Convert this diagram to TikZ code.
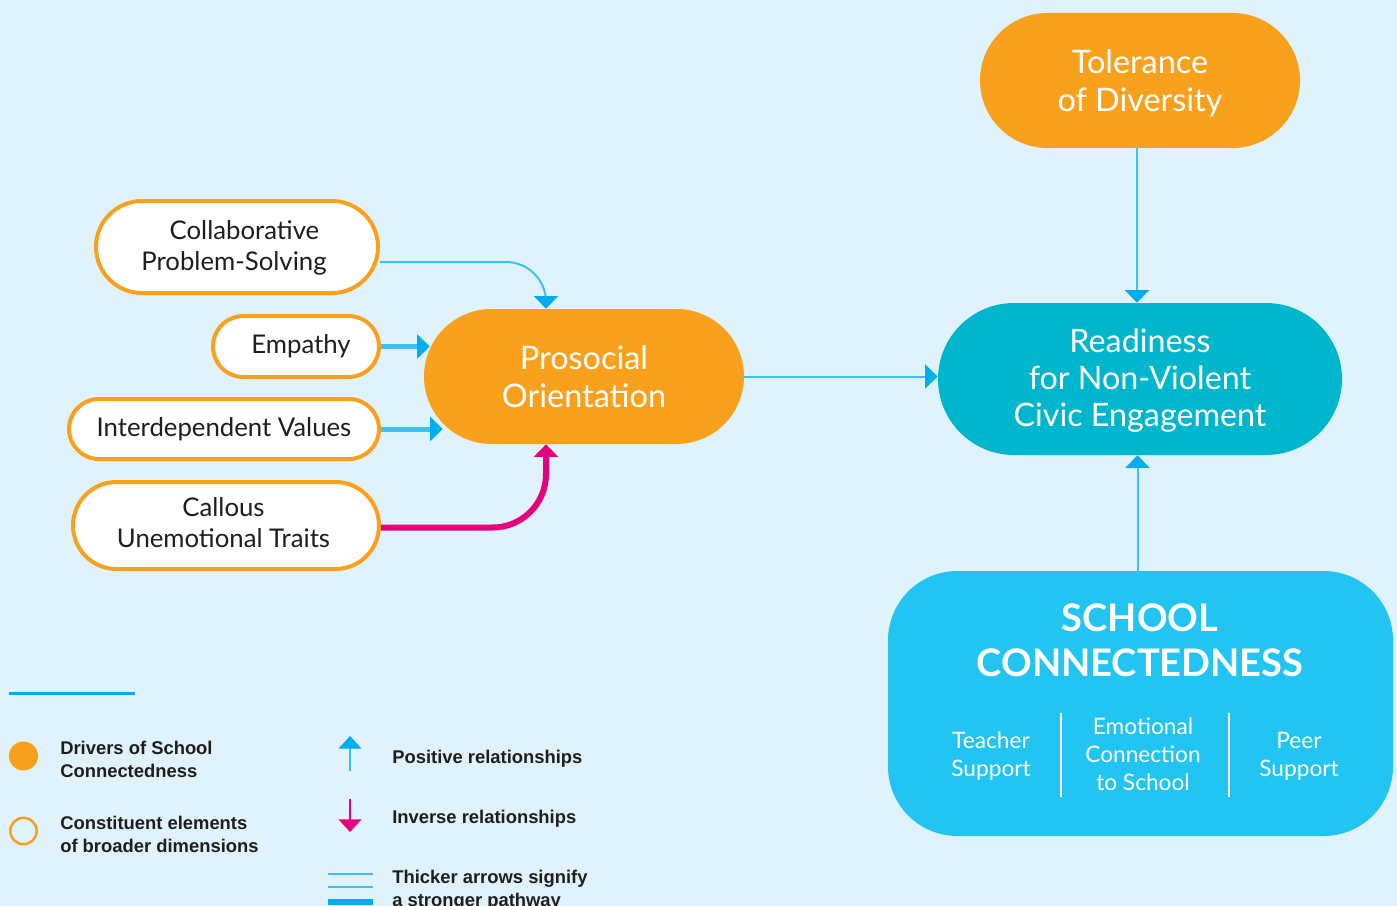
\documentclass[tikz,border=0pt]{standalone}
\usepackage{fontspec}
\setmainfont{Lato}
\newfontfamily\legendfont{Liberation Sans}
\usetikzlibrary{arrows.meta,shapes.misc}
\definecolor{bg}{HTML}{E0F3FC}
\definecolor{orng}{HTML}{F9A11D}
\definecolor{teal}{HTML}{00B6CD}
\definecolor{schoolblue}{HTML}{22C4F1}
\definecolor{lineblue}{HTML}{3DC1F1}
\definecolor{tipblue}{HTML}{00AEEF}
\definecolor{magent}{HTML}{E6007E}
\definecolor{darktext}{HTML}{1E1E1E}
\tikzset{
  pill/.style={rounded rectangle, inner sep=0pt, align=center, text=white},
  bigtext/.style={font=\fontsize{24.3}{28.5}\selectfont},
  elem/.style={rounded rectangle, draw=orng, line width=3pt, fill=white, inner sep=0pt, align=center, text=darktext, font=\fontsize{19.3}{23.25}\selectfont},
  tipb/.style={-{Triangle[width=18pt,length=9.5pt,color=tipblue]}},
  thinarrow/.style={lineblue, line width=1.5pt, tipb},
  thickarrow/.style={lineblue, line width=3.75pt, tipb},
  magarrow/.style={magent, line width=4.5pt, -{Triangle[width=18pt,length=9.5pt,color=magent]}},
  subtext/.style={text=white, align=center, font=\fontsize{17}{21}\selectfont},
  legtext/.style={anchor=west, align=left, inner sep=0pt, text=darktext, font=\legendfont\bfseries\fontsize{13.8}{17}\selectfont},
}
\begin{document}
\begin{tikzpicture}[x=0.75pt,y=-0.75pt]
\useasboundingbox (0,0) rectangle (1397,906);
\clip (0,0) rectangle (1397,906);
\fill[bg] (0,0) rectangle (1397,906);

% main nodes
\node[pill, fill=orng, minimum width=240pt, minimum height=101.25pt] (tol) at (1140,80.5) {};
\node[text=white, align=center, bigtext] (toltext) at (1140,83.5) {Tolerance\\of Diversity};
\node[pill, fill=teal, minimum width=303pt, minimum height=114pt] (ready) at (1140,379) {};
\node[text=white, align=center, font=\fontsize{24.2}{27.75}\selectfont] (readytext) at (1140,381) {Readiness\\for Non-Violent\\Civic Engagement};
\node[pill, fill=orng, minimum width=240pt, minimum height=101.25pt, bigtext] (proso) at (584,376.5) {Prosocial\\Orientation};

\node[rectangle, rounded corners=52pt, fill=schoolblue, minimum width=378.75pt, minimum height=198.75pt, inner sep=0pt] (school) at (1140.5,703.5) {};
\node[text=white, align=center, font=\bfseries\fontsize{28.5}{34}\selectfont] (schooltitle) at (1140,640.5) {SCHOOL\\CONNECTEDNESS};
\node[subtext] (teacher) at (991,756) {Teacher\\Support};
\node[subtext] (emotional) at (1143,754.5) {Emotional\\Connection\\to School};
\node[subtext] (peer) at (1299,756) {Peer\\Support};
\draw[white, line width=1.5pt] (1061,713) -- (1061,797);
\draw[white, line width=1.5pt] (1229,713) -- (1229,797);

% constituent elements
\node[elem, minimum width=211.5pt, minimum height=69pt] (collab) at (237,247) {};
\node[text=darktext, align=center, font=\fontsize{19.3}{23.25}\selectfont] (collabtext) at (234,247.5) {\hspace*{15.75pt}Collaborative\\Problem-Solving};
\node[elem, minimum width=124.5pt, minimum height=45.75pt] (emp) at (296,346.5) {\hspace*{7.5pt}Empathy};
\node[elem, minimum width=232.5pt, minimum height=45pt] (inter) at (224,429) {Interdependent Values};
\node[elem, minimum width=229.5pt, minimum height=65.25pt] (callous) at (226,525.5) {};
\node[text=darktext, align=center, font=\fontsize{19.3}{23.25}\selectfont] (callostext) at (223.5,523) {Callous\\Unemotional Traits};

% connectors
\draw[thinarrow, rounded corners=30pt] ([yshift=-11.25pt]collab.east) -| ([xshift=-28.5pt]proso.north);
\draw[thickarrow, shorten >=-4.5pt] (emp.east) -- (emp.east -| proso.west);
\draw[thickarrow, shorten >=-14.25pt] (inter.east) -- (inter.east -| proso.west);
\draw[magarrow, rounded corners=40pt] ([yshift=-1.5pt]callous.east) -| ([xshift=-28.5pt]proso.south);
\draw[thinarrow] (proso.east) -- (proso.east -| ready.west);
\draw[thinarrow] ([xshift=-2.25pt]tol.south) -- ([xshift=-2.25pt]tol.south |- ready.north);
\draw[thinarrow] ([xshift=-2.25pt]school.north) -- ([xshift=-2.25pt]school.north |- ready.south);

% legend
\draw[tipblue, line width=2.25pt] (9,693) -- (135,693);
\fill[orng] (23.5,756) circle (10.9pt);
\draw[orng, line width=1.9pt] (23.5,831) circle (9.9pt);
\node[legtext] (l1) at (60,759.5) {Drivers of School\\Connectedness};
\node[legtext] (l2) at (60,834.5) {Constituent elements\\of broader dimensions};
\coordinate (pa1) at (350,771);
\coordinate (pa2) at (350,736);
\draw[lineblue, line width=1.5pt, -{Triangle[width=17pt,length=9.5pt,color=tipblue]}] (pa1) -- (pa2);
\coordinate (ia1) at (350,799);
\coordinate (ia2) at (350,832);
\draw[magent, line width=1.5pt, -{Triangle[width=17pt,length=9.5pt,color=magent]}] (ia1) -- (ia2);
\node[legtext] (l3) at (392,759) {Positive relationships};
\node[legtext] (l4) at (392,819) {Inverse relationships};
\draw[lineblue, line width=0.9pt] (328,874) -- (373,874);
\draw[lineblue, line width=2pt] (328,887) -- (373,887);
\draw[tipblue, line width=3.8pt] (328,902) -- (373,902);
\node[legtext] (l5) at (392,890) {Thicker arrows signify\\a stronger pathway};
\end{tikzpicture}
\end{document}
